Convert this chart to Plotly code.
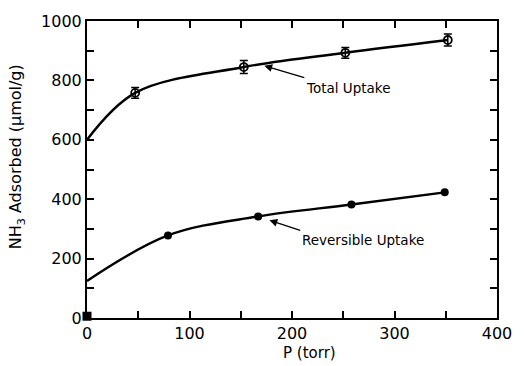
import plotly.graph_objects as go

# Measured uptake points (P in torr, NH3 in umol/g)
total_p = [47, 153, 252, 352]
total_nh3 = [758, 845, 893, 936]
total_err = [18, 22, 18, 20]

rev_p = [79, 167, 258, 349]
rev_nh3 = [278, 342, 382, 423]

origin_p = [0]
origin_nh3 = [6]
origin_err = [10]

# Smooth isotherm curves (extrapolated intercept at P = 0)
total_curve_p = [0, 47, 153, 252, 352]
total_curve_nh3 = [600, 758, 845, 893, 936]
rev_curve_p = [0, 79, 167, 258, 349]
rev_curve_nh3 = [125, 278, 342, 382, 423]

x_tick_vals = [0, 100, 200, 300, 400]
y_tick_vals = [0, 200, 400, 600, 800, 1000]

FONT = "DejaVu Sans, sans-serif"

# plot area in pixels
L, R, T, B = 87, 17, 20, 48
W, H = 524, 366
plot_w = W - L - R
plot_h = H - T - B


def px_to_paper(px, py):
    return (px - L) / plot_w, (H - B - py) / plot_h


fig = go.Figure()

fig.add_trace(go.Scatter(
    x=total_curve_p, y=total_curve_nh3, mode="lines",
    line=dict(color="black", width=2.4, shape="spline", smoothing=1.0),
    hoverinfo="skip"))
fig.add_trace(go.Scatter(
    x=rev_curve_p, y=rev_curve_nh3, mode="lines",
    line=dict(color="black", width=2.4, shape="spline", smoothing=1.0),
    hoverinfo="skip"))

fig.add_trace(go.Scatter(
    x=total_p, y=total_nh3, mode="markers",
    marker=dict(symbol="circle-open", size=8, color="black", line=dict(width=1.8)),
    error_y=dict(type="data", array=total_err, color="black", thickness=1.5, width=4)))
fig.add_trace(go.Scatter(
    x=rev_p, y=rev_nh3, mode="markers",
    marker=dict(symbol="circle", size=8, color="black")))
fig.add_trace(go.Scatter(
    x=origin_p, y=origin_nh3, mode="markers",
    marker=dict(symbol="square", size=9, color="black"),
    error_y=dict(type="data", array=origin_err, color="black", thickness=1.5, width=4),
    cliponaxis=False))

axis_common = dict(
    showline=True, linecolor="black", linewidth=2, mirror="ticks",
    ticks="inside", ticklen=7, tickwidth=1.5, tickcolor="black",
    showgrid=False, zeroline=False,
    tickfont=dict(family=FONT, size=16, color="black"))

fig.update_xaxes(range=[0, 400], tickvals=x_tick_vals, **axis_common,
                 minor=dict(ticks="inside", ticklen=7, tickwidth=1.5,
                            tickcolor="black", dtick=50, tick0=0, showgrid=False))
fig.update_yaxes(range=[0, 1000], tickvals=y_tick_vals, **axis_common,
                 minor=dict(ticks="inside", ticklen=7, tickwidth=1.5,
                            tickcolor="black", dtick=100, tick0=0, showgrid=False))

xt_x, xt_y = px_to_paper(315, 342)
yt_x, yt_y = px_to_paper(15, 156)

fig.update_layout(
    width=W, height=H,
    margin=dict(l=L, r=R, t=T, b=B),
    paper_bgcolor="white", plot_bgcolor="white",
    showlegend=False,
    annotations=[
        # curve labels; arrows run from the label's top-left corner to the curve
        dict(text="Total Uptake", x=173, y=849, ax=212, ay=809,
             xref="x", yref="y", axref="x", ayref="y",
             xanchor="left", yanchor="top", showarrow=True,
             arrowhead=2, arrowsize=1.2, arrowwidth=1.3, arrowcolor="black",
             font=dict(family=FONT, size=13.5, color="black")),
        dict(text="Reversible Uptake", x=178, y=329, ax=208, ay=295,
             xref="x", yref="y", axref="x", ayref="y",
             xanchor="left", yanchor="top", showarrow=True,
             arrowhead=2, arrowsize=1.2, arrowwidth=1.3, arrowcolor="black",
             font=dict(family=FONT, size=13.5, color="black")),
        dict(text="P (torr)", x=xt_x, y=xt_y, xref="paper", yref="paper",
             xanchor="center", yanchor="top", showarrow=False,
             font=dict(family=FONT, size=15, color="black")),
        dict(text="NH<sub>3</sub> Adsorbed (μmol/g)", x=yt_x, y=yt_y,
             xref="paper", yref="paper", textangle=-90, showarrow=False,
             xanchor="center", yanchor="middle",
             font=dict(family=FONT, size=16, color="black")),
    ],
)

fig.write_html("out.html")
